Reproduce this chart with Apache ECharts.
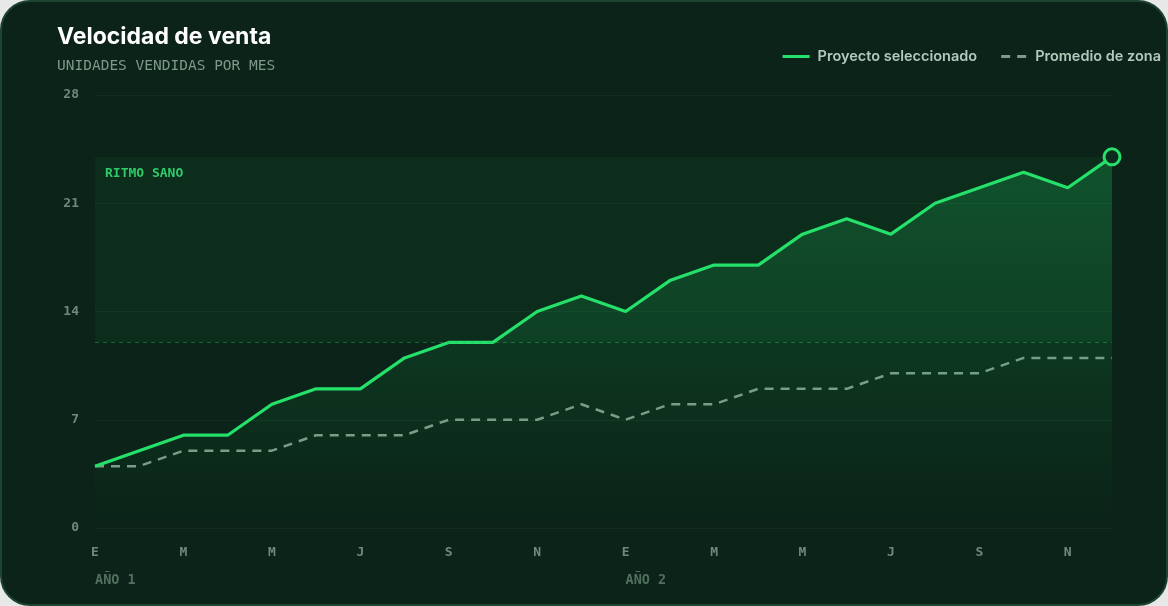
<!DOCTYPE html>
<html style="height: 100%">
    <head>
        <meta charset="utf-8">
        <title>Velocidad de venta</title>
        <script type="text/javascript" src="https://cdn.jsdelivr.net/npm/echarts@6/dist/echarts.min.js"></script>
        <style>
            html, body { height: 100%; margin: 0; background: #e6e9e7; }
            #card {
                position: absolute; left: 0; top: 0; right: 0; bottom: 0;
                box-sizing: border-box;
                border: 2px solid #1d4431;
                border-radius: 30px;
                background: #0b2318;
            }
            #container { position: absolute; left: 0; top: 0; width: 100%; height: 100%; }
        </style>
    </head>
    <body>
        <div id="card"></div>
        <div id="container"></div>
        <script type="text/javascript">

        // meses (dos años)
        var months = ['E','F','M','A','M','J','J','A','S','O','N','D',
                      'E','F','M','A','M','J','J','A','S','O','N','D'];
        var yearLabels = ['AÑO 1', 'AÑO 2'];
        // unidades vendidas
        var proyecto = [4, 5, 6, 6, 8, 9, 9, 11, 12, 12, 14, 15,
                        14, 16, 17, 17, 19, 20, 19, 21, 22, 23, 22, 24];
        var promedio = [4, 4, 5, 5, 5, 6, 6, 6, 7, 7, 7, 8,
                        7, 8, 8, 9, 9, 9, 10, 10, 10, 11, 11, 11];
        // banda de ritmo sano
        var ritmoSano = [12, 24];
        var yTicks = [0, 28, 7];

        var mono = '"DejaVu Sans Mono", "Liberation Mono", monospace';
        var sans = 'Inter, "Noto Sans", sans-serif';

        var dom = document.getElementById("container");
        var myChart = echarts.init(dom);

        var option = {
            animation: false,
            title: {
                text: 'Velocidad de venta',
                subtext: 'UNIDADES VENDIDAS POR MES',
                left: 52,
                top: 21,
                itemGap: 10,
                textStyle: {
                    color: '#ffffff',
                    fontFamily: sans,
                    fontSize: 23,
                    fontWeight: 'bold'
                },
                subtextStyle: {
                    color: '#7c9a88',
                    fontFamily: mono,
                    fontSize: 14.5
                }
            },
            legend: {
                right: 2,
                top: 44,
                itemWidth: 27,
                itemHeight: 3,
                itemGap: 24,
                data: [
                    { name: 'Proyecto seleccionado', icon: 'path://M0,0H27V3H0Z' },
                    { name: 'Promedio de zona', icon: 'path://M0,0H9V3H0Z M16,0H25V3H16Z' }
                ],
                textStyle: {
                    color: '#b3c9bb',
                    fontFamily: sans,
                    fontSize: 14.5,
                    fontWeight: 600,
                    padding: [0, 0, 0, 3]
                }
            },
            grid: {
                left: 95,
                right: 56,
                top: 95,
                bottom: 78
            },
            xAxis: [{
                type: 'category',
                boundaryGap: false,
                data: months,
                axisLine: { show: false },
                axisTick: { show: false },
                axisLabel: {
                    interval: 1,
                    margin: 18,
                    color: '#6f8a7b',
                    fontFamily: mono,
                    fontSize: 13,
                    fontWeight: 'bold'
                }
            }, {
                type: 'category',
                position: 'bottom',
                boundaryGap: false,
                data: months,
                axisLine: { show: false },
                axisTick: { show: false },
                axisLabel: {
                    interval: 0,
                    margin: 45,
                    align: 'left',
                    color: '#52705e',
                    fontFamily: mono,
                    fontSize: 13.5,
                    fontWeight: 'bold',
                    formatter: function (v, i) {
                        if (i === 0) return yearLabels[0];
                        if (i === 12) return yearLabels[1];
                        return '';
                    }
                }
            }],
            yAxis: {
                type: 'value',
                min: yTicks[0],
                max: yTicks[1],
                interval: yTicks[2],
                axisLabel: {
                    margin: 16,
                    color: '#6f8a7b',
                    fontFamily: mono,
                    fontSize: 13,
                    fontWeight: 'bold'
                },
                splitLine: {
                    lineStyle: { color: 'rgba(120,200,150,0.07)', width: 1 }
                }
            },
            series: [{
                name: 'Promedio de zona',
                type: 'line',
                data: promedio,
                symbol: 'none',
                z: 3,
                lineStyle: {
                    color: '#7f9a8b',
                    width: 2.5,
                    type: [9, 7]
                },
                itemStyle: { color: '#7f9a8b' }
            }, {
                name: 'Proyecto seleccionado',
                type: 'line',
                data: proyecto,
                symbol: 'none',
                z: 4,
                lineStyle: { color: '#25e06a', width: 3.2 },
                itemStyle: { color: '#25e06a' },
                areaStyle: {
                    color: new echarts.graphic.LinearGradient(0, 0, 0, 1, [
                        { offset: 0, color: 'rgba(34,197,94,0.36)' },
                        { offset: 1, color: 'rgba(34,197,94,0.0)' }
                    ])
                },
                markArea: {
                    silent: true,
                    itemStyle: { color: 'rgba(34,170,90,0.07)' },
                    label: {
                        position: 'insideTopLeft',
                        distance: 10,
                        color: '#2ecb68',
                        fontFamily: mono,
                        fontSize: 13,
                        fontWeight: 'bold'
                    },
                    data: [[
                        { name: 'RITMO SANO', yAxis: ritmoSano[0] },
                        { yAxis: ritmoSano[1] }
                    ]]
                },
                markLine: {
                    silent: true,
                    symbol: 'none',
                    label: { show: false },
                    lineStyle: {
                        color: 'rgba(40,180,95,0.45)',
                        width: 1,
                        type: [4, 4]
                    },
                    data: [{ yAxis: ritmoSano[0] }]
                },
                markPoint: {
                    silent: true,
                    symbol: 'circle',
                    symbolSize: 16,
                    label: { show: false },
                    itemStyle: {
                        color: '#0d2a1c',
                        borderColor: '#25e06a',
                        borderWidth: 3
                    },
                    data: [{ type: 'max' }]
                }
            }]
        };

        myChart.setOption(option);

        </script>
    </body>
</html>
